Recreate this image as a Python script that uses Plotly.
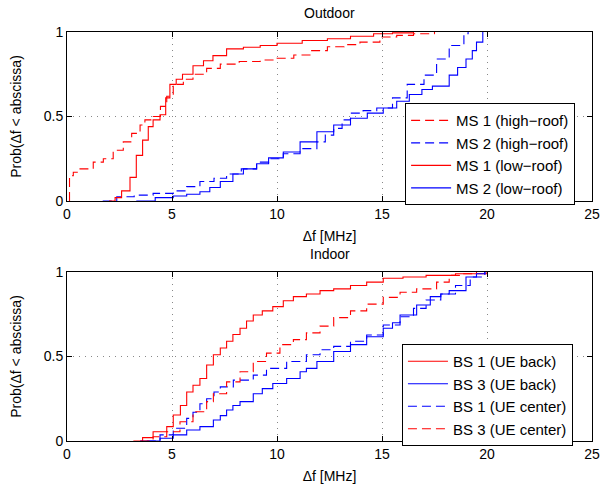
import plotly.graph_objects as go

# ---------------- data ----------------
# Outdoor
ms1_high_x = [0.12, 0.12, 0.3, 0.62, 1.25, 1.73, 2.2, 2.68, 3.08, 3.48, 3.71, 4.1, 4.45, 4.75, 5.06, 5.54, 6.0, 6.65, 7.3, 8.2, 9.2, 10.0, 10.8, 11.6, 12.4, 13.2, 13.95, 14.9, 15.7, 16.5, 17.5]
ms1_high_y = [0.0, 0.15, 0.17, 0.19, 0.23, 0.25, 0.30, 0.35, 0.40, 0.45, 0.48, 0.50, 0.56, 0.62, 0.69, 0.72, 0.75, 0.785, 0.81, 0.825, 0.834, 0.845, 0.864, 0.89, 0.913, 0.925, 0.94, 0.97, 0.98, 0.99, 1.0]

ms2_high_x = [1.7, 2.37, 3.2, 4.1, 5.06, 5.7, 6.33, 7.0, 7.6, 8.3, 9.03, 9.6, 10.3, 11.1, 11.9, 12.3, 12.7, 13.1, 13.5, 14.1, 14.75, 15.5, 16.2, 17.0, 17.6, 18.2, 18.9, 19.1]
ms2_high_y = [0.0, 0.025, 0.035, 0.045, 0.06, 0.085, 0.115, 0.135, 0.16, 0.19, 0.23, 0.25, 0.28, 0.31, 0.35, 0.39, 0.43, 0.48, 0.52, 0.535, 0.55, 0.61, 0.69, 0.745, 0.84, 0.92, 0.99, 1.0]

ms1_low_x = [2.0, 2.29, 2.6, 3.0, 3.3, 3.6, 3.87, 4.1, 4.43, 4.7, 4.9, 5.2, 5.5, 6.0, 6.5, 6.95, 7.6, 8.4, 9.2, 10.0, 11.2, 12.4, 13.5, 14.6, 15.5, 16.5]
ms1_low_y = [0.0, 0.02, 0.06, 0.14, 0.27, 0.36, 0.44, 0.48, 0.51, 0.61, 0.69, 0.72, 0.75, 0.80, 0.83, 0.86, 0.90, 0.91, 0.92, 0.933, 0.95, 0.96, 0.975, 0.99, 0.995, 1.0]

ms2_low_x = [3.3, 4.2, 5.06, 5.7, 6.33, 6.8, 7.3, 7.9, 8.4, 9.03, 9.6, 10.3, 11.1, 11.9, 12.7, 13.5, 14.3, 15.06, 15.7, 16.3, 16.9, 17.4, 18.2, 18.6, 19.0, 19.3, 19.5, 19.8]
ms2_low_y = [0.0, 0.02, 0.03, 0.04, 0.055, 0.08, 0.115, 0.16, 0.19, 0.22, 0.255, 0.29, 0.35, 0.41, 0.45, 0.49, 0.52, 0.55, 0.59, 0.63, 0.66, 0.68, 0.745, 0.79, 0.84, 0.89, 0.94, 1.0]

# Indoor
bs1_back_x = [3.16, 3.6, 4.1, 4.75, 5.06, 5.4, 5.7, 6.0, 6.33, 6.65, 6.97, 7.3, 7.6, 7.9, 8.24, 8.55, 8.87, 9.3, 9.8, 10.3, 10.78, 11.4, 12.05, 12.7, 13.5, 14.27, 15.06, 16.0, 17.1, 18.5, 20.0]
bs1_back_y = [0.0, 0.02, 0.055, 0.085, 0.154, 0.21, 0.29, 0.33, 0.37, 0.45, 0.51, 0.55, 0.59, 0.63, 0.667, 0.71, 0.746, 0.77, 0.795, 0.83, 0.854, 0.87, 0.89, 0.90, 0.92, 0.94, 0.963, 0.97, 0.98, 0.99, 1.0]

bs3_back_x = [3.48, 4.43, 5.06, 5.7, 6.33, 6.97, 7.3, 7.6, 7.9, 8.24, 8.87, 9.3, 9.8, 10.46, 11.1, 11.4, 11.9, 12.7, 13.5, 14.27, 15.06, 15.5, 15.86, 16.65, 17.3, 17.8, 18.2, 19.0, 19.5, 19.9]
bs3_back_y = [0.0, 0.016, 0.036, 0.065, 0.085, 0.124, 0.15, 0.183, 0.21, 0.233, 0.28, 0.31, 0.34, 0.37, 0.41, 0.43, 0.47, 0.53, 0.57, 0.617, 0.667, 0.70, 0.746, 0.805, 0.854, 0.87, 0.89, 0.97, 0.99, 1.0]

bs1_center_x = [3.8, 4.43, 5.06, 5.7, 6.0, 6.33, 6.65, 7.0, 7.3, 7.92, 8.87, 9.5, 10.46, 11.4, 12.05, 12.7, 13.5, 14.27, 15.06, 15.86, 16.5, 17.1, 17.8, 18.5, 19.2, 19.9]
bs1_center_y = [0.0, 0.036, 0.075, 0.134, 0.17, 0.22, 0.25, 0.29, 0.32, 0.36, 0.39, 0.43, 0.47, 0.51, 0.54, 0.56, 0.59, 0.627, 0.686, 0.735, 0.785, 0.834, 0.87, 0.92, 0.97, 1.0]

bs3_center_x = [3.5, 4.1, 4.75, 5.38, 6.0, 6.65, 6.97, 7.6, 8.24, 8.87, 9.5, 10.14, 10.78, 11.4, 12.05, 12.7, 13.5, 14.27, 15.06, 15.86, 16.65, 17.6, 18.2, 18.8, 19.5]
bs3_center_y = [0.0, 0.025, 0.055, 0.114, 0.173, 0.233, 0.28, 0.35, 0.41, 0.47, 0.52, 0.57, 0.60, 0.64, 0.68, 0.73, 0.77, 0.81, 0.85, 0.88, 0.90, 0.94, 0.98, 0.99, 1.0]

x_ticks = [0, 5, 10, 15, 20, 25]
y_ticks = [0, 0.5, 1]
y_tick_labels = ["0", "0.5", "1"]

RED = "#ff0000"
BLUE = "#0000ff"
DASH = "9px,5px"
FONT = "Liberation Sans, Arial, sans-serif"

fig = go.Figure()

def add(x, y, name, color, dash, xa, ya, legend):
    fig.add_trace(go.Scatter(
        x=x, y=y, name=name, mode="lines", line_shape="hv",
        line=dict(color=color, width=1.1, dash=dash),
        xaxis=xa, yaxis=ya, legend=legend))

add(ms1_high_x, ms1_high_y, "MS 1 (high\u2212roof)", RED, DASH, "x", "y", "legend")
add(ms2_high_x, ms2_high_y, "MS 2 (high\u2212roof)", BLUE, DASH, "x", "y", "legend")
add(ms1_low_x, ms1_low_y, "MS 1 (low\u2212roof)", RED, "solid", "x", "y", "legend")
add(ms2_low_x, ms2_low_y, "MS 2 (low\u2212roof)", BLUE, "solid", "x", "y", "legend")

add(bs1_back_x, bs1_back_y, "BS 1 (UE back)", RED, "solid", "x2", "y2", "legend2")
add(bs3_back_x, bs3_back_y, "BS 3 (UE back)", BLUE, "solid", "x2", "y2", "legend2")
add(bs1_center_x, bs1_center_y, "BS 1 (UE center)", BLUE, DASH, "x2", "y2", "legend2")
add(bs3_center_x, bs3_center_y, "BS 3 (UE center)", RED, DASH, "x2", "y2", "legend2")

axis_common = dict(
    showline=True, linecolor="black", linewidth=1, mirror="ticks",
    ticks="inside", ticklen=5, tickcolor="black", automargin=False,
    showgrid=True, gridcolor="#888888", griddash="1px,5px", gridwidth=1,
    zeroline=False, tickfont=dict(family=FONT, size=14, color="black"),
)

xa = dict(axis_common, range=[0, 25], tickvals=x_ticks,
          title=dict(text="\u0394f [MHz]", font=dict(family=FONT, size=14, color="black"), standoff=10))
ya = dict(axis_common, range=[0, 1], tickvals=y_ticks, ticktext=y_tick_labels,
          title=dict(text="Prob(\u0394f < abscissa)", font=dict(family=FONT, size=14, color="black"), standoff=18))

top_dom = [0.5868, 1.0]
bot_dom = [0.0, 0.4132]

fig.update_layout(
    width=616, height=487,
    margin=dict(l=67, r=24, t=32, b=46, autoexpand=False),
    paper_bgcolor="white", plot_bgcolor="white",
    font=dict(family=FONT, size=14, color="black"),
    xaxis=dict(xa, domain=[0, 1], anchor="y"),
    yaxis=dict(ya, domain=top_dom, anchor="x"),
    xaxis2=dict(xa, domain=[0, 1], anchor="y2"),
    yaxis2=dict(ya, domain=bot_dom, anchor="x2"),
    legend=dict(x=0.644, y=0.826, xanchor="left", yanchor="top",
                bgcolor="white", bordercolor="black", borderwidth=1,
                font=dict(family=FONT, size=15, color="black"),
                tracegroupgap=0, itemwidth=40),
    legend2=dict(x=0.638, y=0.237, xanchor="left", yanchor="top",
                 bgcolor="white", bordercolor="black", borderwidth=1,
                 font=dict(family=FONT, size=15, color="black"),
                 tracegroupgap=0, itemwidth=40),
    annotations=[
        dict(text="Outdoor", x=0.5, y=1.0, xref="paper", yref="paper",
             xanchor="center", yanchor="bottom", yshift=9, showarrow=False,
             font=dict(family=FONT, size=14, color="black")),
        dict(text="Indoor", x=0.5, y=bot_dom[1], xref="paper", yref="paper",
             xanchor="center", yanchor="bottom", yshift=8, showarrow=False,
             font=dict(family=FONT, size=14, color="black")),
    ],
)

fig.write_html("out.html", config={"displayModeBar": False},
               post_script="document.body.style.margin='0';document.body.style.overflow='hidden';")
